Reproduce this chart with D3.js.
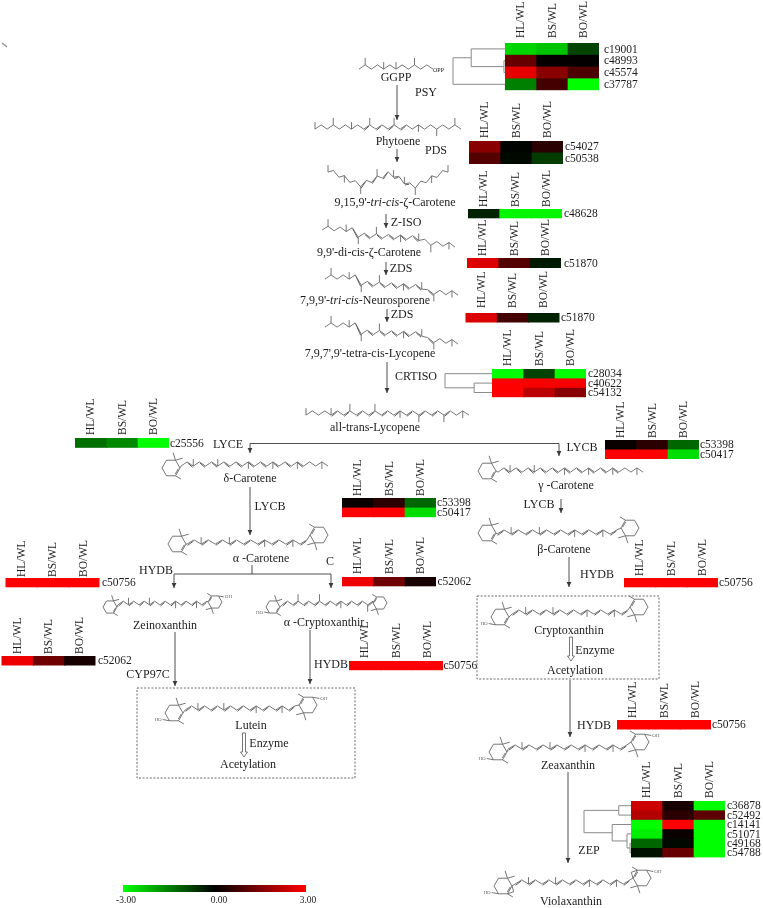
<!DOCTYPE html>
<html><head><meta charset="utf-8">
<script src="https://cdnjs.cloudflare.com/ajax/libs/d3/7.8.5/d3.min.js"></script>
<style>html,body{margin:0;padding:0;background:#fff}svg{display:block;filter:blur(.3px)}
text{font-family:"Liberation Serif",serif;fill:#1c1c1c}</style>
</head><body><svg id="c" width="763" height="908"></svg>
<script>
// ---------- data: expression ratios (log2) ----------
const columns = ["HL/WL","BS/WL","BO/WL"];
const colorDomain = [-3,0,3];
const colorTicks = ["-3.00","0.00","3.00"];

const psyGenes = ["c19001","c48993","c45574","c37787"];
const psyVals  = [[-2.5,-2.3,-0.8],[1.2,0.05,0.05],[2.7,1.6,0.9],[-1.5,0.8,-3]];
const pdsGenes = ["c54027","c50538"];
const pdsVals  = [[1.6,-0.05,0.5],[1.0,-0.1,-0.7]];
const zisoGenes = ["c48628"];
const zisoVals  = [[-0.4,-2.9,-2.9]];
const zds1Genes = ["c51870"];
const zds1Vals  = [[2.6,1.0,-0.3]];
const zds2Genes = ["c51870"];
const zds2Vals  = [[2.6,0.8,-0.4]];
const crtisoGenes = ["c28034","c40622","c54132"];
const crtisoVals  = [[-3,-0.8,-3],[3,2.9,2.9],[3,2.2,1.6]];
const lyceGenes = ["c25556"];
const lyceVals  = [[-1.3,-1.6,-3]];
const lycbGenes = ["c53398","c50417"];
const lycbVals  = [[0.1,0.5,-1.2],[3,3,-2.6]];
const hydbGenes = ["c50756"];
const hydbVals  = [[3,3,3]];
const cypGenes = ["c52062"];
const cypVals  = [[2.8,1.3,0.3]];
const zepGenes = ["c36878","c52492","c14141","c51071","c49168","c54788"];
const zepVals  = [[2.4,0.3,-3],[2.1,0.5,1.1],[-3,3,-3],[-2.8,0.1,-3],[-1.2,-0.1,-3],[-0.2,1.2,-3]];

// cluster trees: h = merge distance (0..1 of the dendrogram's width)
const psyTree = {h:1,children:[{h:.65,children:[{id:"c19001"},{h:.02,children:[{id:"c48993"},{id:"c45574"}]}]},{id:"c37787"}]};
const crtisoTree = {h:1,children:[{id:"c28034"},{h:.38,children:[{id:"c40622"},{id:"c54132"}]}]};
const zepTree = {h:1,children:[{h:.26,children:[{id:"c36878"},{id:"c52492"}]},
  {h:.40,children:[{id:"c14141"},{h:.085,children:[{id:"c51071"},{h:.02,children:[{id:"c49168"},{id:"c54788"}]}]}]}]};

// ---------- layout (separate from the values) ----------
const W = 94;
const heatmaps = [
 {g:psyGenes,v:psyVals,x:505,y:43,rh:11.8,gap:5,ld:5,tree:psyTree,tw:52},
 {g:pdsGenes,v:pdsVals,x:469,y:141,rh:11.5,gap:3,ld:2},
 {g:zisoGenes,v:zisoVals,x:468,y:209,rh:9.3,gap:2,ld:2},
 {g:zds1Genes,v:zds1Vals,x:467,y:258,rh:10,gap:2,ld:3},
 {g:zds2Genes,v:zds2Vals,x:465.5,y:313,rh:9.5,gap:5,ld:1.5},
 {g:crtisoGenes,v:crtisoVals,x:492,y:369,rh:9.4,gap:3,ld:2,tree:crtisoTree,tw:47},
 {g:lyceGenes,v:lyceVals,x:75,y:438,rh:9.8,gap:3,ld:1},
 {g:lycbGenes,v:lycbVals,x:605,y:440,rh:9.5,gap:2,ld:1},
 {g:lycbGenes,v:lycbVals,x:342,y:498,rh:9.6,gap:2,ld:1},
 {g:hydbGenes,v:hydbVals,x:5.5,y:578,rh:9.3,gap:1,ld:2.5},
 {g:cypGenes,v:cypVals,x:342,y:577,rh:9.3,gap:3,ld:1.5},
 {g:cypGenes,v:cypVals,x:1.5,y:656,rh:9.5,gap:2,ld:2.5},
 {g:hydbGenes,v:hydbVals,x:349,y:661,rh:9.2,gap:3,ld:0.5},
 {g:hydbGenes,v:hydbVals,x:624,y:578,rh:9.3,gap:2,ld:1},
 {g:hydbGenes,v:hydbVals,x:617,y:720,rh:9.5,gap:2,ld:1},
 {g:zepGenes,v:zepVals,x:631,y:801,rh:9.4,gap:3,ld:2,tree:zepTree,tw:47}
];
// pathway text: [text, centre x, baseline y]
const labels = [
 ["GGPP",396,81],["PSY",426,96],["Phytoene",398,145],["PDS",436,154],
 ["Z-ISO",406,226],["9,9'-di-cis-ζ-Carotene",369,256],["ZDS",401,272],["ZDS",402,318],
 ["7,9,7',9'-tetra-cis-Lycopene",370,357],["CRTISO",416,380],["all-trans-Lycopene",375,431],
 ["LYCE",228,448],["δ-Carotene",250,482],["LYCB",270,510],["α -Carotene",261,562],["C",330,565],
 ["HYDB",156,574],["Zeinoxanthin",165,629],["α -Cryptoxanthir",324,626],["HYDB",331,668],
 ["CYP97C",148,678],["Lutein",251,729],["Enzyme",269,747],["Acetylation",248,768],
 ["LYCB",582,451],["γ -Carotene",566,489],["LYCB",539,508],["β-Carotene",564,553],["HYDB",597,578],
 ["Cryptoxanthin",569,634],["Enzyme",595,654],["Acetylation",575,674],["HYDB",594,729],
 ["Zeaxanthin",568,769],["ZEP",589,854],["Violaxanthin",571,905]
];
const richLabels = [
 {x:395,y:206,parts:[["9,15,9'-"],["tri-cis",1],["-ζ-Carotene"]]},
 {x:365,y:304,parts:[["7,9,9'-"],["tri-cis",1],["-Neurosporene"]]}
];
// arrows: [x1,y1,x2,y2,hasHead]
const arrows = [
 [397,85,397,120,1],[397,149,397,162,1],[386,214,386,228,1],[386,262,386,275,1],[387,309,387,322,1],
 [387,362,387,393,1],[250,443.5,559,443.5,0],[250,443.5,250,453,1],[559,443.5,559,456,1],
 [250,487,250,535,1],[174,574,331,574,0],[174,574,174,588,1],[331,574,331,588,1],[252,565,252,574,0],
 [175,632,175,686,1],[310,630,310,684,1],[561,499,561,513,1],[569,557,569,587,1],
 [570,680,570,737,1],[568,772,568,863,1]
];
const openArrows = [[244,733,757],[571,637,661]];
const boxes = [[137,688,218,90],[477,596,182,83]];

// molecules: chain from wp[0] to wp[last]; up/down = x positions of methyl groups
const molecules = [
 {wp:[[359,67],[433,67]],n:12,up:[364,382,399,417],dbl:[]},
 {wp:[[315,127],[461,127]],n:24,up:[317,336,353,372,397,456],down:[417,436],dbl:[8,15]},
 {wp:[[328,170],[360,185],[390,173],[413,187],[448,170]],n:22,up:[328,377,392,402,448],down:[345,360,413,430],dbl:[6,15]},
 {wp:[[322,228],[355,230],[358,235],[418,238],[428,243],[455,245]],n:22,up:[327,344,375,418],down:[357,398,432,450],dbl:[5,17]},
 {wp:[[325,277],[357,277],[360,283],[422,287],[428,292],[458,293]],n:22,up:[329,347,378,422],down:[360,402,433,453],dbl:[5,18]},
 {wp:[[325,325],[357,325],[360,332],[422,334],[428,340],[458,342]],n:22,up:[329,347,378,422],down:[360,402,433,453],dbl:[5,19]},
 {wp:[[306,413],[469,413]],n:26,up:[306,332,353,374],down:[399,421,443,463],dbl:[4,23]},
 {wp:[[181,464],[328,464]],n:24,up:[195,219],down:[250,274,297,322],dbl:[1,20],ring:{l:[171,468,9]}},
 {wp:[[498,470],[643,470]],n:24,up:[511,535],down:[566,589,613,638],dbl:[1,20],ring:{l:[487,471,9]}},
 {wp:[[187,542],[307,542]],n:17,up:[203,231],down:[264,292],dbl:[0,17],ring:{l:[177,544,9],r:[319,535,9]}},
 {wp:[[497,532],[617,532]],n:17,up:[514,541],down:[576,603],dbl:[0,17],ring:{l:[487,533,9],r:[630,528,9]}},
 {wp:[[118,603],[207,603]],n:17,up:[129,150],down:[175,195],dbl:[0,17],ring:{l:[110,607,7],r:[215,602,7],ohR:1},amp:1.8},
 {wp:[[282,603],[373,603]],n:17,up:[297,317],down:[343,367],dbl:[0,17],ring:{l:[273,607,7],r:[380,603,7],ohL:1},amp:1.8},
 {wp:[[185,708],[295,708]],n:17,up:[201,226],down:[257,283],dbl:[0,17],ring:{l:[174,713,9],r:[308,705,9],ohL:1,ohR:1}},
 {wp:[[512,612],[628,612]],n:17,up:[527,555],down:[587,613],dbl:[0,17],ring:{l:[500,617,9],r:[639,607,9],ohL:1}},
 {wp:[[508,747],[627,747]],n:17,up:[524,552],down:[585,612],dbl:[0,17],ring:{l:[498,752,9],r:[640,742,9],ohL:1,ohR:1}},
 {wp:[[515,882],[630,882]],n:17,up:[530,557],down:[589,616],dbl:[0,17],ring:{l:[503,886,9],r:[642,878,9],ohL:1,ohR:1,epoxy:1}}
];
const legendBox = {x:123,y:885,w:183,h:7,labelY:903};

// ---------- drawing ----------
const svg = d3.select("#c");
const defs = svg.append("defs");
const color = d3.scaleLinear().domain(colorDomain).range(["#00ff00","#000000","#ff0000"]);
const ink = "#3a3a3a", molInk = "#5f5f5f";

defs.append("marker").attr("id","ah").attr("markerUnits","userSpaceOnUse")
  .attr("markerWidth",6).attr("markerHeight",7).attr("refX",5).attr("refY",3)
  .attr("orient","auto").append("path").attr("d","M0,0.6L5,3L0,5.4Z").attr("fill",ink);
const line = d3.line();

// molecules
const molG = svg.append("g").attr("fill","none").attr("stroke",molInk).attr("stroke-width",0.85);
function ring(g, spec, dir, flags){
  const [cx,cy,r] = spec;
  const P = (a,rad=r)=>[cx+dir*rad*Math.cos(a*Math.PI/180),cy+dir*rad*Math.sin(a*Math.PI/180)];
  g.append("path").attr("d",line(d3.range(6).map(i=>P(i*60)))+"Z");
  // gem-dimethyl
  g.append("path").attr("d",line([P(-60),P(-40,r*1.7)]));
  g.append("path").attr("d",line([P(-60),P(-82,r*1.7)]));
  // ring methyl and ring double bond
  g.append("path").attr("d",line([P(60),P(48,r*1.65)]));
  g.append("path").attr("d",line([P(6,r*.82),P(54,r*.82)]));
  if(flags.oh){
    const a=P(120), b=P(150,r*1.45);
    g.append("path").attr("d",line([a,b]));
    g.append("text").attr("x",b[0]+(dir>0?-1:1)).attr("y",b[1]+1.5)
      .attr("text-anchor",dir>0?"end":"start").attr("font-size",5).attr("stroke","none")
      .style("fill","#666").text(dir>0?"HO":"OH");
  }
  if(flags.epoxy){
    g.append("path").attr("d",line([P(0),P(28,r*1.35),P(60)]));
  }
}
molecules.forEach(m=>{
  const g = molG.append("g"), x0=m.wp[0][0], x1=m.wp[m.wp.length-1][0];
  const xs = d3.range(m.n+1).map(i=>x0+i*(x1-x0)/m.n);
  const base = d3.scaleLinear().domain(m.wp.map(p=>p[0])).range(m.wp.map(p=>p[1]));
  const amp = m.amp||2.1;
  const pts = xs.map((x,i)=>[x,base(x)+(i%2?-amp:amp)]);
  g.append("path").attr("d",line(pts));
  const [a,b] = m.dbl;
  d3.range(a||0,b||0,2).forEach(i=>{
    const p=pts[i],q=pts[i+1]; if(!q) return;
    g.append("path").attr("stroke-width",1).attr("d",line([[p[0]+.6,p[1]+1.2],[q[0]-.6,q[1]+1.2]]));
  });
  (m.up||[]).forEach(x=>{const p=pts[d3.bisectCenter(xs,x)];
    g.append("path").attr("d",line([p,[p[0],p[1]-7]]));});
  (m.down||[]).forEach(x=>{const p=pts[d3.bisectCenter(xs,x)];
    g.append("path").attr("d",line([p,[p[0],p[1]+7]]));});
  if(m.ring){
    if(m.ring.l){const s=m.ring.l; ring(g,s,1,{oh:m.ring.ohL,epoxy:m.ring.epoxy});
      g.append("path").attr("d",line([[s[0]+s[2],s[1]],pts[0]]));}
    if(m.ring.r){const s=m.ring.r; ring(g,s,-1,{oh:m.ring.ohR,epoxy:m.ring.epoxy});
      g.append("path").attr("d",line([[s[0]-s[2],s[1]],pts[pts.length-1]]));}
  }
});
svg.append("text").attr("x",433).attr("y",72).attr("font-size",6).text("OPP");

// arrows
svg.append("g").selectAll("line").data(arrows).join("line")
  .attr("x1",d=>d[0]).attr("y1",d=>d[1]).attr("x2",d=>d[2]).attr("y2",d=>d[3])
  .attr("stroke",ink).attr("stroke-width",0.9)
  .attr("marker-end",d=>d[4]?"url(#ah)":null);
openArrows.forEach(([x,y1,y2])=>{
  svg.append("path").attr("fill","none").attr("stroke","#555").attr("stroke-width",0.8)
    .attr("d",`M${x-1.5},${y1}V${y2-5}H${x-3.5}L${x},${y2}L${x+3.5},${y2-5}H${x+1.5}V${y1}Z`);
});
// dashed boxes
svg.append("g").selectAll("rect").data(boxes).join("rect")
  .attr("x",d=>d[0]).attr("y",d=>d[1]).attr("width",d=>d[2]).attr("height",d=>d[3])
  .attr("fill","none").attr("stroke","#444").attr("stroke-width",0.8).attr("stroke-dasharray","2,1.6");

// heatmaps
heatmaps.forEach(h=>{
  const g = svg.append("g");
  const xS = d3.scaleBand().domain(columns).range([h.x,h.x+W]);
  const yS = d3.scaleBand().domain(h.g).range([h.y,h.y+h.rh*h.g.length]);
  h.g.forEach((gene,r)=>{
    columns.forEach((c,i)=>{
      g.append("rect").attr("x",xS(c)).attr("y",yS(gene))
       .attr("width",xS.bandwidth()+(i<2?1:0)).attr("height",yS.bandwidth()+(r<h.g.length-1?1:0))
       .attr("fill",color(h.v[r][i]));
    });
    g.append("text").attr("x",h.x+W+h.ld).attr("y",yS(gene)+yS.bandwidth()/2+3.6)
     .attr("font-size",11.5).text(gene);
  });
  columns.forEach(c=>{
    const cx = xS(c)+xS.bandwidth()/2+3.5, by = h.y-h.gap;
    g.append("text").attr("transform",`translate(${cx},${by}) rotate(-90)`)
     .attr("font-size",11.5).text(c);
  });
  if(h.tree){
    const root = d3.hierarchy(h.tree);
    const xEnd = h.x, dx = d3.scaleLinear().domain([0,1]).range([xEnd,xEnd-h.tw]);
    root.eachAfter(n=>{
      n.px = n.children? dx(n.data.h): xEnd;
      n.py = n.children? d3.mean(n.children,c=>c.py): yS(n.data.id)+yS.bandwidth()/2;
    });
    root.descendants().filter(n=>n.children).forEach(n=>{
      const pts = n.children.map(c=>[c.px,c.py]);
      g.append("path").attr("fill","none").attr("stroke","#8a8a8a").attr("stroke-width",1)
       .attr("d",line([pts[0],[n.px,pts[0][1]],[n.px,pts[1][1]],pts[1]]));
    });
  }
});

// pathway labels
svg.append("g").selectAll("text").data(labels).join("text")
  .attr("x",d=>d[1]).attr("y",d=>d[2]).attr("text-anchor","middle").attr("font-size",12).text(d=>d[0]);
richLabels.forEach(l=>{
  const t = svg.append("text").attr("x",l.x).attr("y",l.y).attr("text-anchor","middle").attr("font-size",12);
  l.parts.forEach(p=>t.append("tspan").attr("font-style",p[1]?"italic":null).text(p[0]));
});

// colour key
const grad = defs.append("linearGradient").attr("id","key");
colorDomain.forEach(v=>grad.append("stop").attr("offset",(v+3)/6).attr("stop-color",color(v)));
svg.append("rect").attr("x",legendBox.x).attr("y",legendBox.y).attr("width",legendBox.w)
  .attr("height",legendBox.h).attr("fill","url(#key)");
const keyX = d3.scaleLinear().domain(colorDomain).range([126,219,308]);
svg.append("g").selectAll("text").data(colorTicks).join("text")
  .attr("x",d=>keyX(+d)).attr("y",legendBox.labelY).attr("text-anchor","middle")
  .attr("font-size",9.5).text(d=>d);

// scan mark at the top-left
svg.append("path").attr("d",line([[2,43],[7,47]])).attr("stroke","#999").attr("stroke-width",1.6);
</script></body></html>
